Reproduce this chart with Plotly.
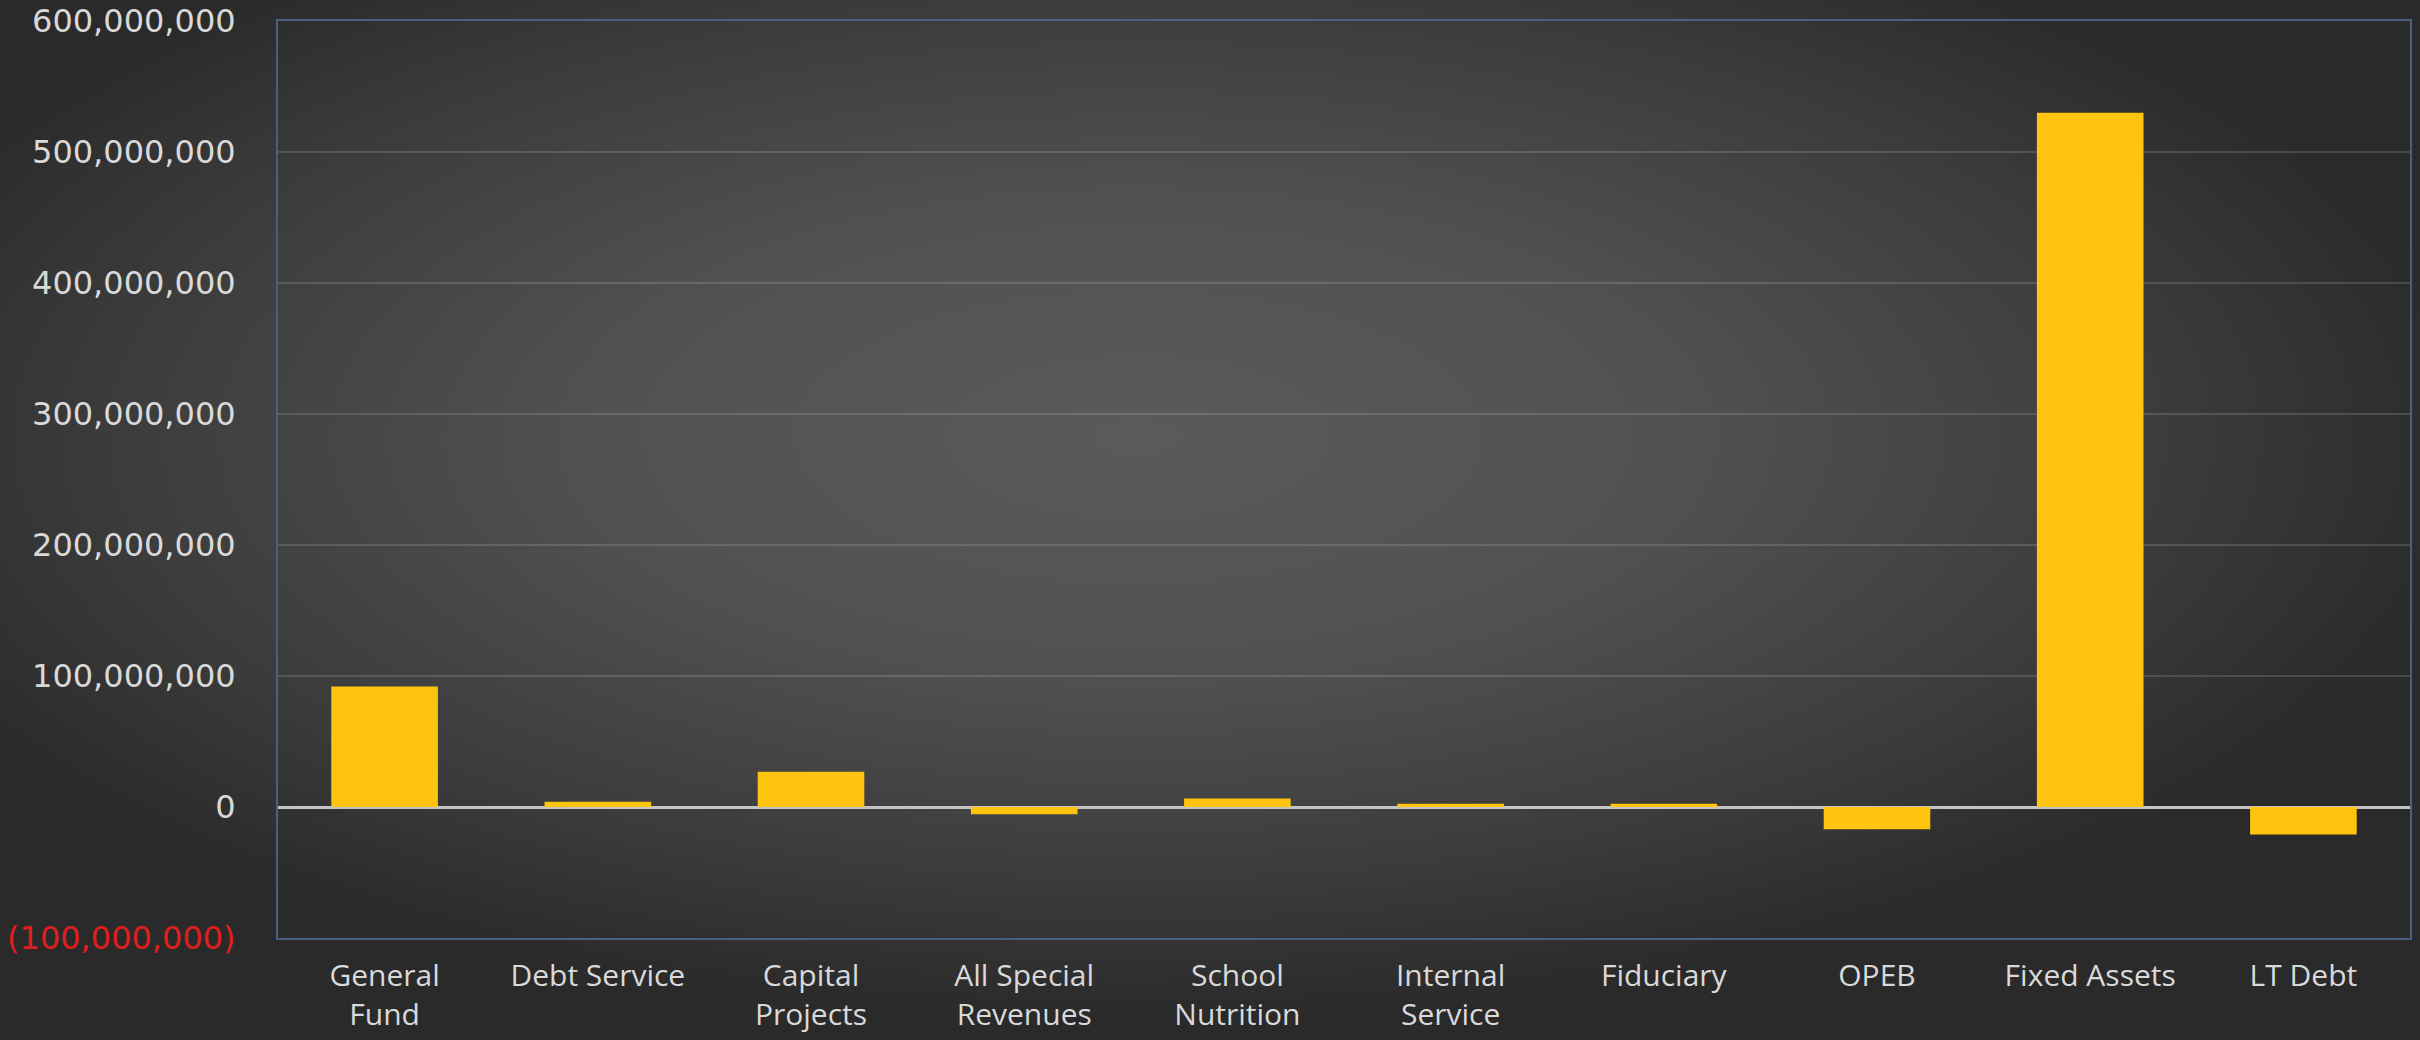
import base64
import plotly.graph_objects as go

# ---- data ----
categories = ["General<br>Fund", "Debt Service", "Capital<br>Projects", "All Special<br>Revenues",
              "School<br>Nutrition", "Internal<br>Service", "Fiduciary", "OPEB", "Fixed Assets", "LT Debt"]
values = [92_000_000, 4_000_000, 27_000_000, -5_500_000, 6_500_000,
          2_500_000, 2_500_000, -17_000_000, 530_000_000, -21_000_000]
y_tick_values = [-100_000_000, 0, 100_000_000, 200_000_000, 300_000_000, 400_000_000, 500_000_000, 600_000_000]
y_tick_labels = ["(100,000,000)", "0", "100,000,000", "200,000,000", "300,000,000",
                 "400,000,000", "500,000,000", "600,000,000"]
negative_label_color = "#E01E1E"

# ---- layout geometry ----
W, H = 2420, 1040
ML, MR, MT, MB = 278, 10, 21, 102
PW, PH = W - ML - MR, H - MT - MB

ticktext = [f'<span style="color:{negative_label_color}">{t}</span>' if v < 0 else t
            for v, t in zip(y_tick_values, y_tick_labels)]

# radial-gradient background as an SVG image
svg = f'''<svg xmlns="http://www.w3.org/2000/svg" width="{W}" height="{H}" viewBox="0 0 {W} {H}" preserveAspectRatio="none">
<defs><radialGradient id="g" cx="0.47" cy="0.42" r="0.56" gradientUnits="objectBoundingBox">
<stop offset="0" stop-color="#5a5a5a"/><stop offset="0.4" stop-color="#515151"/>
<stop offset="0.75" stop-color="#3c3c3c"/><stop offset="1" stop-color="#2a2a2a"/></radialGradient></defs>
<rect x="0" y="0" width="{W}" height="{H}" fill="url(#g)"/></svg>'''
bg_src = "data:image/svg+xml;base64," + base64.b64encode(svg.encode()).decode()

fig = go.Figure(go.Bar(
    x=categories, y=values,
    marker=dict(color="#FFC40F", line=dict(width=0)),
))

fig.update_layout(
    width=W, height=H, autosize=False,
    margin=dict(l=ML, r=MR, t=MT, b=MB, pad=0, autoexpand=False),
    paper_bgcolor="#2b2b2b", plot_bgcolor="rgba(0,0,0,0)",
    bargap=0.5, showlegend=False,
    images=[dict(source=bg_src, xref="paper", yref="paper",
                 x=-ML / PW, y=1 + MT / PH, sizex=W / PW, sizey=H / PH,
                 xanchor="left", yanchor="top", sizing="stretch", layer="below")],
    xaxis=dict(
        automargin=False,
        showgrid=False, showline=True, linecolor="#4A6080", linewidth=2, mirror=True,
        ticks="", tickfont=dict(family="Open Sans", size=30, color="#D9D9D9"),
        ticklabelstandoff=10,
    ),
    yaxis=dict(
        automargin=False, ticklabeloverflow="allow",
        range=[-100_000_000, 600_000_000], tickvals=y_tick_values, ticktext=ticktext,
        showgrid=True, gridcolor="rgba(255,255,255,0.14)", gridwidth=2,
        zeroline=True, zerolinecolor="#C4C4C4", zerolinewidth=3,
        showline=True, linecolor="#4A6080", linewidth=2, mirror=True,
        ticks="", tickfont=dict(family="DejaVu Sans", size=32, color="#D9D9D9"),
        ticklabelstandoff=34,
    ),
)

fig.write_html("out.html")
